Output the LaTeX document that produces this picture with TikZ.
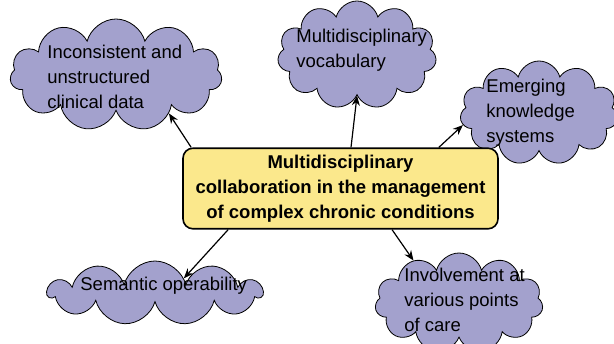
\documentclass[tikz,border=0pt]{standalone}
\usepackage{fontspec}
\setmainfont{Liberation Sans}
\usetikzlibrary{shapes.symbols,arrows.meta}
\definecolor{cloudfill}{RGB}{163,161,205}
\definecolor{hubfill}{RGB}{251,232,140}

\begin{document}
\begin{tikzpicture}[
        x=0.5pt, y=-0.5pt,
        % Styles des nuages
        bubble/.style={cloud, cloud puffs=11, cloud ignores aspect, draw=black, fill=cloudfill, inner sep=0pt},
        bubbletext/.style={anchor=west, align=left, inner sep=0pt, font=\fontsize{9.25}{12.5}\selectfont},
        % Style du noeud central
        hubnode/.style={rectangle, rounded corners=5pt, draw=black, thick, fill=hubfill, minimum width=157.5pt, minimum height=38.5pt, align=center, font=\fontsize{9.25}{12.5}\selectfont\bfseries},
        % Style des fleches
        link/.style={-{Stealth[length=5pt,width=4pt]}, semithick}
    ]
    \useasboundingbox (0,0) rectangle (614,343);

    % Nuages
    \node[bubble, minimum width=106pt, minimum height=56pt] (data) at (116,75) {};
    \node[bubble, minimum width=79.5pt, minimum height=54pt] (vocab) at (357,55) {};
    \node[bubble, minimum width=79pt, minimum height=52pt] (know) at (539,113) {};
    \node[bubble, minimum width=107pt, minimum height=32pt] (sem) at (155,293) {};
    \node[bubble, minimum width=84pt, minimum height=50pt] (care) at (459,303) {};

    % Textes des nuages
    \node[bubbletext] (datatext) at (47,77) {Inconsistent and\\unstructured\\clinical data};
    \node[bubbletext] (vocabtext) at (296,50) {Multidisciplinary\\vocabulary};
    \node[bubbletext] (knowtext) at (486,113) {Emerging\\knowledge\\systems};
    \node[bubbletext] (semtext) at (80,286) {Semantic operability};
    \node[bubbletext] (caretext) at (404,300) {Involvement at\\various points\\of care};

    % Noeud central
    \node[hubnode] (hub) at (340.5,188.5) {Multidisciplinary\\collaboration in the management\\of complex chronic conditions};

    % Fleches
    \draw[link] ([xshift=4.5pt]hub.north west) -- (data.-36);
    \draw[link] ([xshift=5.25pt]hub.north) -- (vocab.south);
    \draw[link] ([xshift=-30pt]hub.north east) -- (know.189);
    \draw[link] ([xshift=23pt]hub.south west) -- (sem.27);
    \draw[link] ([xshift=25.75pt]hub.south) -- (care.137);

\end{tikzpicture}
\end{document}
